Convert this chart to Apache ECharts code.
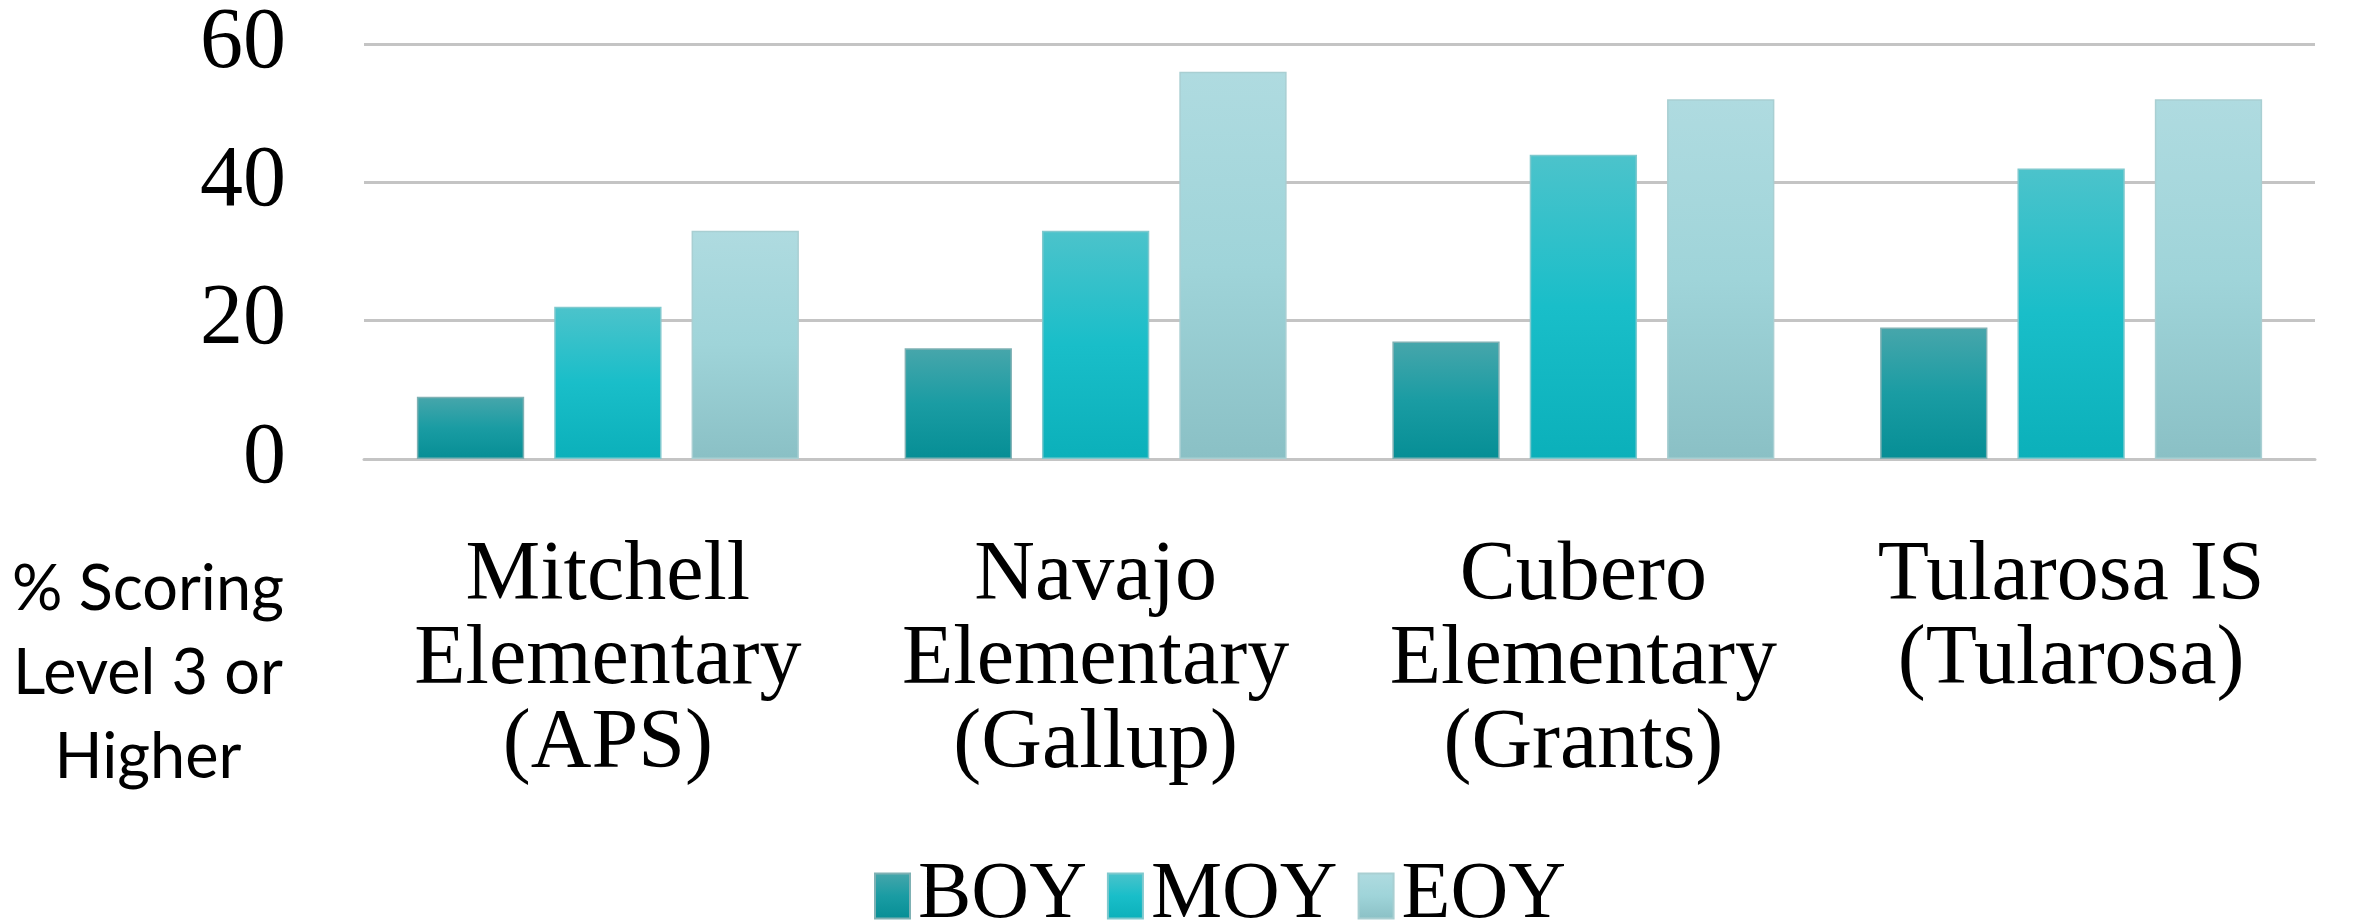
<!DOCTYPE html>
<html>
<head>
<meta charset="utf-8">
<script src="https://cdn.jsdelivr.net/npm/echarts@6/dist/echarts.min.js"></script>
<style>
  html, body { margin: 0; padding: 0; background: #fff; }
  #chart { width: 2361px; height: 921px; }
</style>
</head>
<body>
<div id="chart"></div>
<script>
const categories = [
  'Mitchell\nElementary\n(APS)',
  'Navajo\nElementary\n(Gallup)',
  'Cubero\nElementary\n(Grants)',
  'Tularosa IS\n(Tularosa)'
];
const seriesNames = ['BOY', 'MOY', 'EOY'];
const boyValues = [9, 16, 17, 19];
const moyValues = [22, 33, 44, 42];
const eoyValues = [33, 56, 52, 52];
const yTicks = [0, 20, 40, 60];

const grad = (top, mid, bottom) => ({
  type: 'linear', x: 0, y: 0, x2: 0, y2: 1,
  colorStops: [
    { offset: 0, color: top },
    { offset: 0.5, color: mid },
    { offset: 1, color: bottom }
  ]
});

const fills = [
  grad('#47a6ab', '#1a9ca3', '#068e95'),
  grad('#4cc3cb', '#19bec9', '#0bb0ba'),
  grad('#afdbe0', '#9fd4d9', '#8ac0c5')
];
const borders = ['#7fb1b4', '#7fc9ce', '#a9cfd2'];

const chart = echarts.init(document.getElementById('chart'));

const serif = '"Liberation Serif", serif';

const option = {
  animation: false,
  grid: { left: 364, right: 46, top: 44, bottom: 462 },
  legend: {
    data: seriesNames,
    left: 869,
    bottom: -20,
    icon: 'rect',
    itemWidth: 35,
    itemHeight: 45,
    itemGap: 20,
    textStyle: { fontFamily: serif, fontSize: 80, color: '#000', padding: [0, 0, 0, 3] }
  },
  xAxis: {
    type: 'category',
    data: categories,
    axisLine: { lineStyle: { color: '#c4c4c4', width: 3 } },
    axisTick: { show: false },
    axisLabel: {
      interval: 0,
      margin: 76,
      fontFamily: serif,
      fontSize: 84,
      lineHeight: 84,
      color: '#000'
    }
  },
  yAxis: {
    type: 'value',
    min: yTicks[0],
    max: yTicks[yTicks.length - 1],
    interval: 20,
    axisLine: { show: false },
    axisTick: { show: false },
    splitLine: { lineStyle: { color: '#c4c4c4', width: 3 } },
    axisLabel: {
      margin: 78,
      fontFamily: serif,
      fontSize: 86,
      color: '#000'
    }
  },
  graphic: [{
    type: 'text',
    x: 148,
    y: 548,
    style: {
      text: '% Scoring\nLevel 3 or\nHigher',
      fontFamily: 'Lato, "Open Sans", sans-serif',
      fontSize: 63,
      lineHeight: 84,
      fill: '#000',
      align: 'center',
      verticalAlign: 'top'
    }
  }],
  series: [boyValues, moyValues, eoyValues].map((vals, i) => ({
    name: seriesNames[i],
    type: 'bar',
    data: vals,
    barWidth: '22%',
    barGap: '28%',
    itemStyle: { color: fills[i], borderColor: borders[i], borderWidth: 1.5 }
  }))
};

chart.setOption(option);
</script>
</body>
</html>
